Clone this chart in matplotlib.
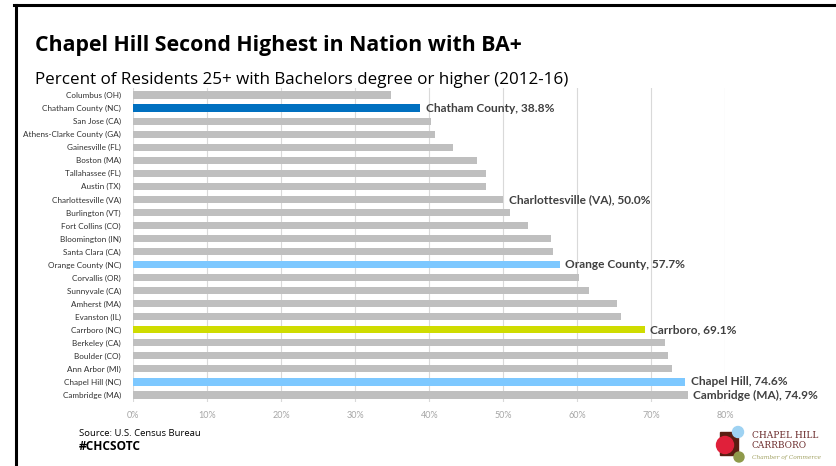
import matplotlib
matplotlib.use("Agg")
import matplotlib.pyplot as plt
from matplotlib.lines import Line2D
from matplotlib.patches import Rectangle, Ellipse
from matplotlib.ticker import FuncFormatter

# dados (de cima para baixo)
cidades = [
    "Columbus (OH)", "Chatham County (NC)", "San Jose (CA)", "Athens-Clarke County (GA)",
    "Gainesville (FL)", "Boston (MA)", "Tallahassee (FL)", "Austin (TX)",
    "Charlottesville (VA)", "Burlington (VT)", "Fort Collins (CO)", "Bloomington (IN)",
    "Santa Clara (CA)", "Orange County (NC)", "Corvallis (OR)", "Sunnyvale (CA)",
    "Amherst (MA)", "Evanston (IL)", "Carrboro (NC)", "Berkeley (CA)",
    "Boulder (CO)", "Ann Arbor (MI)", "Chapel Hill (NC)", "Cambridge (MA)",
]
percentuais = [
    34.8, 38.8, 40.2, 40.8, 43.2, 46.4, 47.6, 47.7, 50.0, 50.9, 53.4, 56.5,
    56.7, 57.7, 60.2, 61.6, 65.3, 65.9, 69.1, 71.8, 72.2, 72.8, 74.6, 74.9,
]
destaques = {
    "Chatham County (NC)": ("#0070C0", "Chatham County, 38.8%"),
    "Charlottesville (VA)": (None, "Charlottesville (VA), 50.0%"),
    "Orange County (NC)": ("#7DC8FF", "Orange County, 57.7%"),
    "Carrboro (NC)": ("#CFDC00", "Carrboro, 69.1%"),
    "Chapel Hill (NC)": ("#7DC8FF", "Chapel Hill, 74.6%"),
    "Cambridge (MA)": (None, "Cambridge (MA), 74.9%"),
}
ticks_x = [0, 10, 20, 30, 40, 50, 60, 70, 80]

CINZA = "#BFBFBF"
TEXTO = "#404040"
W, H = 836, 466

fig = plt.figure(figsize=(8.36, 4.66), dpi=100)
ax = fig.add_axes([0.1595, 0.1384, 0.7081, 0.6717])

cores = [destaques.get(c, (None, None))[0] or CINZA for c in cidades]
ax.barh(cidades, percentuais, height=0.55, color=cores, zorder=3)
ax.set_ylim(23.5, -0.5)
ax.set_xlim(0, 80)

for i, (c, v) in enumerate(zip(cidades, percentuais)):
    if c in destaques:
        ax.text(v + 0.7, i, destaques[c][1], va="center", ha="left",
                fontsize=8.6, fontweight="bold", color=TEXTO, family="Lato", zorder=4)

ax.set_xticks(ticks_x)
ax.xaxis.set_major_formatter(FuncFormatter(lambda x, p: f"{x:.0f}%"))
ax.grid(axis="x", color="#D9D9D9", linewidth=0.8, zorder=0)
for s in ax.spines.values():
    s.set_visible(False)
ax.tick_params(axis="x", length=0, pad=7, labelsize=6.5, labelcolor="#A6A6A6")
ax.tick_params(axis="y", length=0, pad=9, labelsize=5.9, labelcolor="#303030")
for t in ax.get_xticklabels():
    t.set_family("Lato")
for t in ax.get_yticklabels():
    t.set_family("Lato")

# títulos (ajusta o tamanho para a largura da referência)
def texto_ajustado(x, y, s, largura_px, tam, **kw):
    t = fig.text(x / W, 1 - y / H, s, fontsize=tam, va="center", ha="left", **kw)
    r = fig.canvas.get_renderer()
    w = t.get_window_extent(r).width
    t.set_fontsize(tam * largura_px / w)
    return t

texto_ajustado(35, 45, "Chapel Hill Second Highest in Nation with BA+", 485, 20,
               fontweight="bold", family="Open Sans", color="black")
texto_ajustado(35, 80, "Percent of Residents 25+ with Bachelors degree or higher (2012-16)", 528, 13,
               family="Open Sans", color="black")

# fonte
fig.text(79 / W, 1 - 433 / H, "Source: U.S. Census Bureau", fontsize=6.8,
         family="Open Sans", color="black", va="center", ha="left")
fig.text(79 / W, 1 - 447 / H, "#CHCSOTC", fontsize=8.6, fontweight="bold",
         family="Open Sans", color="black", va="center", ha="left")

# moldura
fig.add_artist(Line2D([14 / W, 1], [1 - 5 / H, 1 - 5 / H], color="black", linewidth=2.2))
fig.add_artist(Line2D([16 / W, 16 / W], [0, 1 - 5 / H], color="black", linewidth=2.2))

# logo
fig.add_artist(Rectangle((720 / W, 1 - 455 / H), 18 / W, 23 / H, color="#5A1E12",
                         transform=fig.transFigure))
for (cx, cy, r, col) in [(725, 445, 8.5, "#E0203A"), (738, 432, 5.5, "#9ED2F2"),
                         (739, 457, 5, "#8F9A4A")]:
    fig.add_artist(Ellipse((cx / W, 1 - cy / H), 2 * r / W, 2 * r / H,
                           color=col, transform=fig.transFigure))
fig.text(752 / W, 1 - 435 / H, "CHAPEL HILL", fontsize=6.5, family="DejaVu Serif",
         color="#6B2B2B", va="center", ha="left")
fig.text(752 / W, 1 - 445 / H, "CARRBORO", fontsize=6.5, family="DejaVu Serif",
         color="#6B2B2B", va="center", ha="left")
fig.text(752 / W, 1 - 457 / H, "Chamber of Commerce", fontsize=4.2, family="DejaVu Serif",
         style="italic", color="#A0A060", va="center", ha="left")

fig.savefig("out.png", dpi=100)
